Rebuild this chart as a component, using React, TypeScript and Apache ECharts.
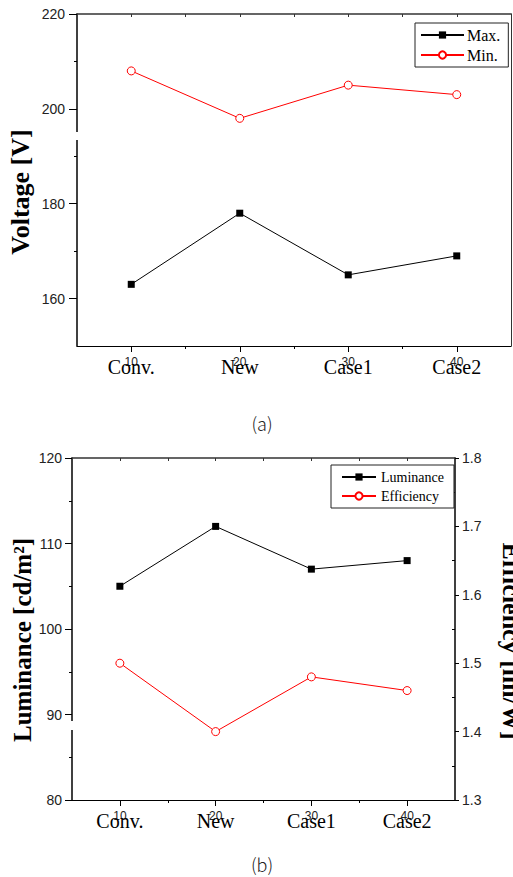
import React, { useEffect, useRef } from "react";
import * as echarts from "echarts";

const categories = ["Conv.", "New", "Case1", "Case2"];
const xValues = [10, 20, 30, 40];
const xMinor = [15, 25, 35];
const xTopTicks = [10, 15, 20, 25, 30, 35, 40];
const maxVoltage = [163, 178, 165, 169];
const minVoltage = [208, 198, 205, 203];
const luminance = [105, 112, 107, 108];
const efficiency = [1.5, 1.4, 1.48, 1.46];
const voltageTicks = [160, 180, 200, 220];
const voltageMinor = [170, 190, 210];
const luminanceTicks = [80, 90, 100, 110, 120];
const luminanceMinor = [85, 95, 105, 115];
const efficiencyTicks = [1.3, 1.4, 1.5, 1.6, 1.7, 1.8];
const efficiencyMinor = [1.35, 1.45, 1.55, 1.65, 1.75];

const SANS = "Liberation Sans";
const SERIF = "Liberation Serif";

function pairs(xs: number[], ys: number[]) {
  return xs.map((x, i) => [x, ys[i]]);
}

function xAxesFor(gridIndex: number) {
  const base = { type: "value", gridIndex, min: 5, max: 45, splitLine: { show: false } };
  return [
    {
      ...base,
      position: "bottom",
      axisLine: { show: true, lineStyle: { color: "#000", width: 1 } },
      axisTick: { show: true, inside: false, length: 6, customValues: xValues, lineStyle: { color: "#000" } },
      axisLabel: {
        show: true,
        customValues: xValues,
        margin: 10,
        fontFamily: SANS,
        fontSize: 12,
        color: "#222",
        formatter: (v: number) => String(v),
      },
    },
    {
      ...base,
      position: "bottom",
      axisLine: { show: false },
      axisTick: { show: true, inside: false, length: 3, customValues: xMinor, lineStyle: { color: "#000" } },
      axisLabel: {
        show: true,
        customValues: xValues,
        margin: 11,
        fontFamily: SERIF,
        fontSize: 20,
        color: "#000",
        formatter: (v: number) => categories[xValues.indexOf(v)] ?? "",
      },
    },
    {
      ...base,
      position: "top",
      axisLine: { show: true, lineStyle: { color: "#333", width: 1.5 } },
      axisTick: { show: true, inside: true, length: 3, customValues: xTopTicks, lineStyle: { color: "#333" } },
      axisLabel: { show: false },
    },
  ];
}

function yAxis(gridIndex: number, min: number, max: number, position: string, opts: any) {
  return {
    type: "value",
    gridIndex,
    min,
    max,
    position,
    splitLine: { show: false },
    ...opts,
  };
}

const hollowRed = { color: "#ffffff", borderColor: "#ff0000", borderWidth: 1 };

export default function App() {
  const ref = useRef<HTMLDivElement>(null);

  useEffect(() => {
    if (!ref.current) return;
    const chart = echarts.init(ref.current, undefined, { renderer: "svg" });
    const labelStyle = { fontFamily: SANS, fontSize: 14, color: "#222" };

    const option: any = {
      animation: false,
      backgroundColor: "#fff",
      grid: [
        { left: 77, top: 14, width: 434, height: 332, outerBoundsMode: "none", containLabel: false },
        { left: 72, top: 458, width: 383, height: 342, outerBoundsMode: "none", containLabel: false },
      ],
      xAxis: [...xAxesFor(0), ...xAxesFor(1)],
      yAxis: [
        yAxis(0, 150, 220, "left", {
          axisLine: { show: true, lineStyle: { color: "#000", width: 1.5 } },
          axisTick: { show: true, inside: false, length: 8, customValues: voltageTicks, lineStyle: { color: "#000" } },
          axisLabel: { show: true, customValues: voltageTicks, margin: 12, ...labelStyle },
        }),
        yAxis(0, 150, 220, "left", {
          axisLine: { show: false },
          axisTick: { show: true, inside: false, length: 3, customValues: voltageMinor, lineStyle: { color: "#000" } },
          axisLabel: { show: false },
        }),
        yAxis(0, 150, 220, "right", {
          axisLine: { show: true, lineStyle: { color: "#333", width: 1 } },
          axisTick: { show: false },
          axisLabel: { show: false },
        }),
        yAxis(1, 80, 120, "left", {
          axisLine: { show: true, lineStyle: { color: "#000", width: 1.5 } },
          axisTick: { show: true, inside: false, length: 7, customValues: luminanceTicks, lineStyle: { color: "#000" } },
          axisLabel: { show: true, customValues: luminanceTicks, margin: 10, ...labelStyle },
        }),
        yAxis(1, 80, 120, "left", {
          axisLine: { show: false },
          axisTick: { show: true, inside: false, length: 3, customValues: luminanceMinor, lineStyle: { color: "#000" } },
          axisLabel: { show: false },
        }),
        yAxis(1, 1.3, 1.8, "right", {
          axisLine: { show: true, lineStyle: { color: "#000", width: 1.5 } },
          axisTick: { show: true, inside: false, length: 4, customValues: efficiencyTicks, lineStyle: { color: "#000" } },
          axisLabel: {
            show: true,
            customValues: efficiencyTicks,
            margin: 7,
            ...labelStyle,
            formatter: (v: number) => v.toFixed(1),
          },
        }),
        yAxis(1, 1.3, 1.8, "right", {
          axisLine: { show: false },
          axisTick: { show: true, inside: true, length: 3, customValues: efficiencyMinor, lineStyle: { color: "#000" } },
          axisLabel: { show: false },
        }),
      ],
      legend: [
        {
          data: ["Max.", "Min."],
          orient: "vertical",
          left: 415,
          top: 23,
          padding: [4, 8, 4, 5],
          itemGap: 4,
          itemWidth: 43,
          itemHeight: 9,
          backgroundColor: "#fff",
          borderColor: "#222",
          borderWidth: 1,
          borderRadius: 0,
          textStyle: { fontFamily: SERIF, fontSize: 16, color: "#000", padding: [0, 0, 0, -2] },
        },
        {
          data: ["Luminance", "Efficiency"],
          orient: "vertical",
          left: 331,
          top: 465,
          padding: [5, 10, 5, 10],
          itemGap: 5,
          itemWidth: 34,
          itemHeight: 9,
          backgroundColor: "#fff",
          borderColor: "#222",
          borderWidth: 1,
          borderRadius: 0,
          textStyle: { fontFamily: SERIF, fontSize: 14, color: "#000" },
        },
      ],
      series: [
        {
          name: "Max.",
          type: "line",
          xAxisIndex: 0,
          yAxisIndex: 0,
          data: pairs(xValues, maxVoltage),
          symbol: "rect",
          symbolSize: 7,
          itemStyle: { color: "#000" },
          lineStyle: { color: "#000", width: 1 },
        },
        {
          name: "Min.",
          type: "line",
          xAxisIndex: 0,
          yAxisIndex: 0,
          data: pairs(xValues, minVoltage),
          symbol: "circle",
          symbolSize: 8,
          itemStyle: hollowRed,
          lineStyle: { color: "#ff0000", width: 1 },
        },
        {
          name: "Luminance",
          type: "line",
          xAxisIndex: 3,
          yAxisIndex: 3,
          data: pairs(xValues, luminance),
          symbol: "rect",
          symbolSize: 7,
          itemStyle: { color: "#000" },
          lineStyle: { color: "#000", width: 1 },
        },
        {
          name: "Efficiency",
          type: "line",
          xAxisIndex: 3,
          yAxisIndex: 5,
          data: pairs(xValues, efficiency),
          symbol: "circle",
          symbolSize: 8,
          itemStyle: hollowRed,
          lineStyle: { color: "#ff0000", width: 1 },
        },
      ],
      graphic: [
        { type: "rect", z: 100, shape: { x: 74, y: 132, width: 6, height: 8 }, style: { fill: "#fff" } },
        { type: "rect", z: 100, shape: { x: 69, y: 721, width: 6, height: 9 }, style: { fill: "#fff" } },
        {
          type: "text",
          z: 100,
          x: 20,
          y: 192,
          rotation: Math.PI / 2,
          style: {
            text: "Voltage [V]",
            fontFamily: SERIF,
            fontWeight: "bold",
            fontSize: 26,
            fill: "#000",
            align: "center",
            verticalAlign: "middle",
          },
        },
        {
          type: "text",
          z: 100,
          x: 22,
          y: 640,
          rotation: Math.PI / 2,
          style: {
            text: "Luminance [cd/m²]",
            fontFamily: SERIF,
            fontWeight: "bold",
            fontSize: 25,
            fill: "#000",
            align: "center",
            verticalAlign: "middle",
          },
        },
        {
          type: "text",
          z: 100,
          x: 511,
          y: 641,
          rotation: -Math.PI / 2,
          style: {
            text: "Efficiency [lm/W]",
            fontFamily: SERIF,
            fontWeight: "bold",
            fontSize: 26,
            fill: "#000",
            align: "center",
            verticalAlign: "middle",
          },
        },
        {
          type: "text",
          x: 262,
          y: 423,
          style: {
            text: "(a)",
            fontFamily: "Noto Sans CJK KR",
            fontWeight: 300,
            fontSize: 18,
            fill: "#222",
            align: "center",
            verticalAlign: "middle",
          },
        },
        {
          type: "text",
          x: 262,
          y: 864,
          style: {
            text: "(b)",
            fontFamily: "Noto Sans CJK KR",
            fontWeight: 300,
            fontSize: 18,
            fill: "#222",
            align: "center",
            verticalAlign: "middle",
          },
        },
      ],
    };

    chart.setOption(option);
    return () => chart.dispose();
  }, []);

  return (
    <div
      ref={ref}
      style={{ position: "fixed", left: 0, top: 0, width: 513, height: 877, background: "#fff" }}
    />
  );
}
